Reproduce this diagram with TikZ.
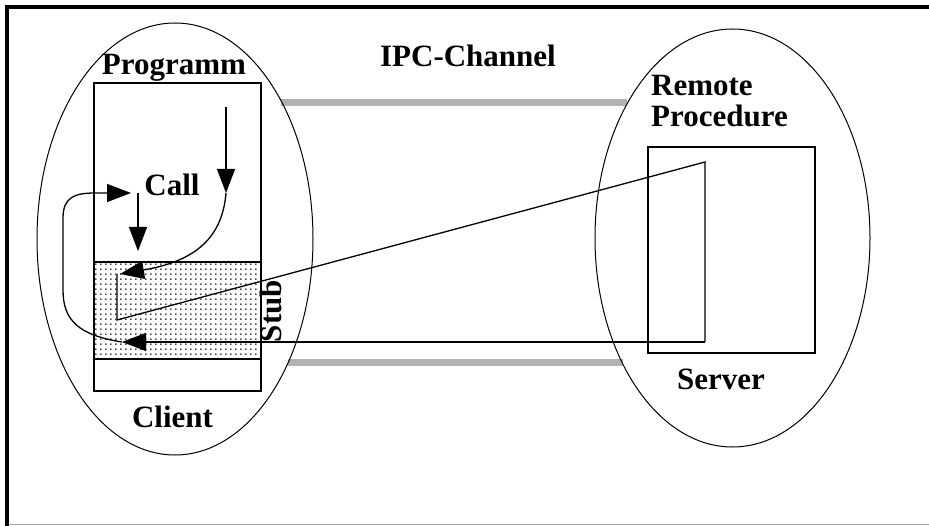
\documentclass[tikz,border=0pt]{standalone}
\usepackage{fontspec}
\setmainfont{Liberation Serif}
\usetikzlibrary{shapes.geometric,arrows.meta,patterns.meta}
\tikzdeclarepattern{
  name=stubdots,
  type=uncolored,
  bounding box={(0pt,0pt) and (4.5pt,4.5pt)},
  tile size={(4.5pt,4.5pt)},
  code={\fill (1pt,1pt) circle (0.9pt);}
}
\tikzset{
  lbl/.style={font=\fontsize{31}{31}\selectfont\bfseries, inner sep=0pt},
  box/.style={draw, line width=1.4pt},
  oval/.style={draw, ellipse, line width=1pt, inner sep=0pt},
  conn/.style={line width=1.3pt},
  arr/.style={conn, -{Triangle[length=24pt,width=18pt]}},
  chan/.style={line width=7pt, draw=gray!60},
}
\begin{document}
\begin{tikzpicture}[x=1pt,y=-1pt]
\useasboundingbox (0,0) rectangle (929,526);
% frame
\draw[line width=3.5pt] (929,7) -- (7,7) -- (7,526);
\draw[gray!70, line width=1pt] (9,524.5) -- (929,524.5);
% IPC channel
\coordinate (ct1) at (281,103);
\coordinate (ct2) at (627,103);
\coordinate (cb1) at (288,363);
\coordinate (cb2) at (623,363);
\draw[chan] (ct1) -- (ct2);
\draw[chan] (cb1) -- (cb2);
% ellipses
\node[oval, minimum width=276pt, minimum height=432pt] (client) at (175,239) {};
\node[oval, minimum width=275pt, minimum height=418pt] (server) at (732.5,238) {};
% program boxes
\path[pattern={stubdots}, pattern color=black] (94,262) rectangle (261,359);
\draw[box] (94,83) rectangle (261,391);
\draw[box] (94,262) -- (261,262);
\draw[box] (94,359) -- (261,359);
\draw[box] (648,147) rectangle (815,353);
% labels
\node[lbl, anchor=base] (prog) at (174,75) {Programm};
\node[lbl, anchor=base] (ipc) at (468,67) {IPC-Channel};
\node[lbl, anchor=base] (call) at (172,196) {Call};
\node[lbl, anchor=base] (cli) at (172.5,428) {Client};
\node[lbl, anchor=base] (srv) at (721,390) {Server};
\node[lbl, anchor=north west, align=left] (rp) at (651,75) {Remote\\Procedure};
\node[lbl, rotate=90] (stub) at (271,311) {Stub};
% connectors
\coordinate (a1) at (226,107);
\coordinate (a2) at (226,193);
\coordinate (a3) at (120,274);
\coordinate (b1) at (117,274);
\coordinate (b2) at (117,320);
\coordinate (s1) at (705,162);
\coordinate (s2) at (705,342);
\coordinate (r1) at (122,342);
\coordinate (c0) at (95,193);
\coordinate (c1) at (131,193);
\coordinate (c2) at (138,193);
\coordinate (c3) at (138,251);
\draw[arr] (a1) -- (a2);
\draw[arr] (a2) .. controls (222,242) and (190,262) .. (a3);
\draw[conn] (b1) -- (b2) -- (s1) -- (s2);
\draw[arr] (s2) -- (r1);
\draw[arr] (r1) .. controls (78,335) and (63,320) .. (63,290) -- (63,218) .. controls (63,197) and (75,193) .. (c0) -- (c1);
\draw[arr] (c2) -- (c3);
\end{tikzpicture}
\end{document}
